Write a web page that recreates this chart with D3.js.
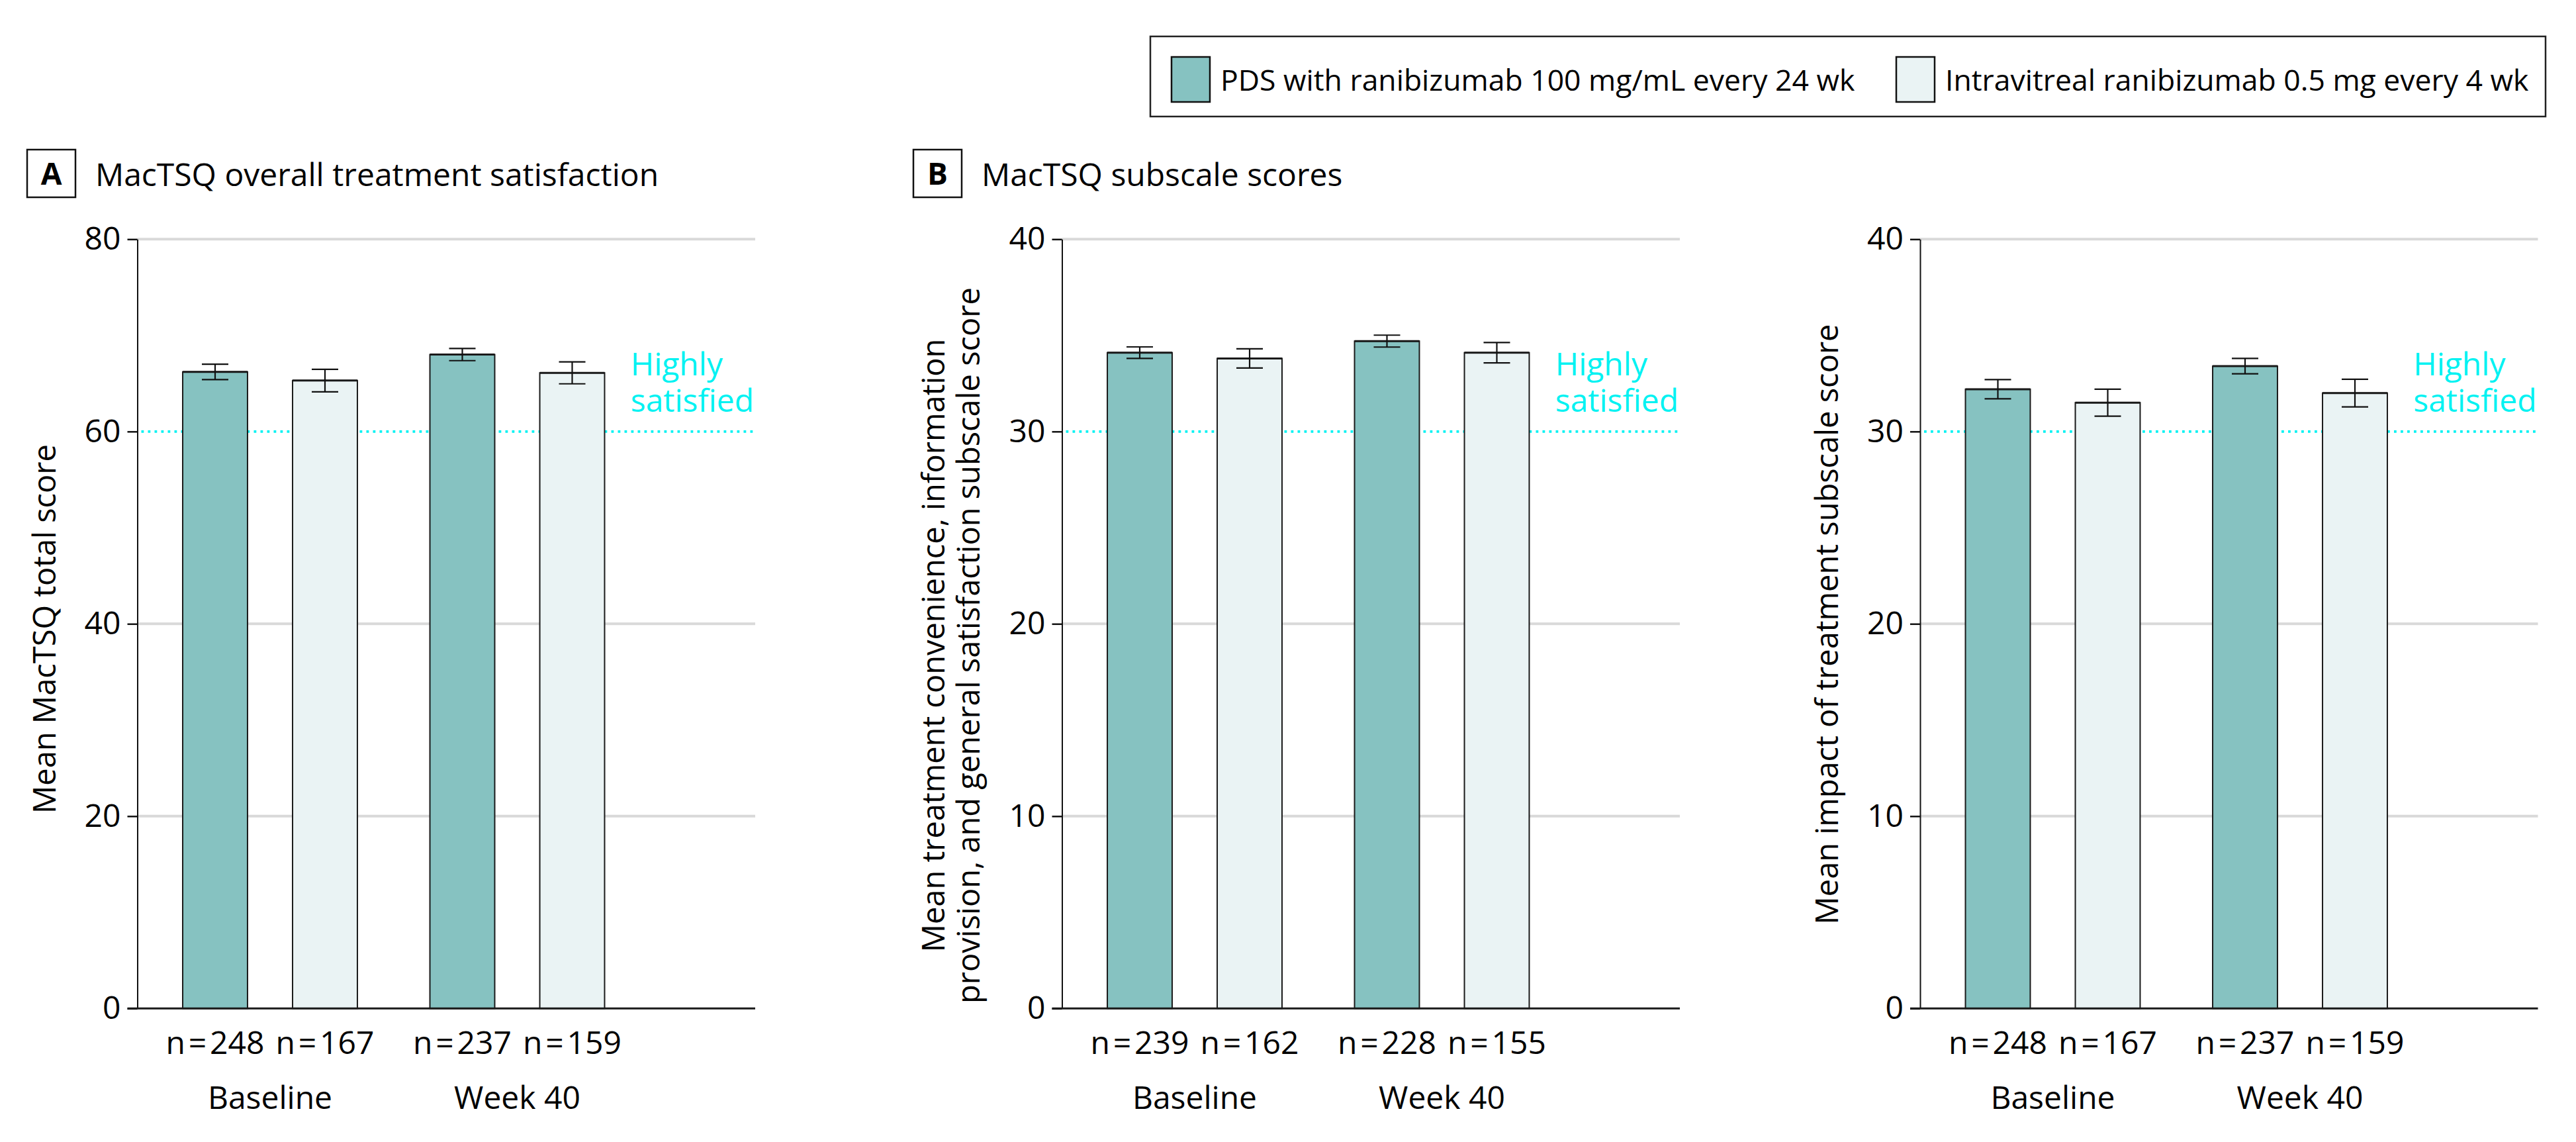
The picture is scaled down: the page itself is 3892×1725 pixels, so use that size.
<!DOCTYPE html>
<html>
<head>
<meta charset="utf-8">
<script src="https://cdn.jsdelivr.net/npm/d3@7"></script>
<style>
  html, body { margin: 0; padding: 0; background: #ffffff; }
  svg { display: block; }
  text { font-family: "Open Sans", "Noto Sans", sans-serif; fill: #000; }
</style>
</head>
<body>
<svg id="chart" width="3892" height="1725"></svg>
<script>
// ---------------- DATA ----------------
const groups = ["Baseline", "Week 40"];
const seriesKeys = ["pds", "monthly"];
const seriesNames = ["PDS with ranibizumab 100 mg/mL every 24 wk", "Intravitreal ranibizumab 0.5 mg every 4 wk"];
const seriesColors = ["#86C2C1", "#EAF3F4"];

// Panel A: MacTSQ total score
const meanPDS_A = [66.2, 68.0];
const meanMonthly_A = [65.3, 66.1];
const errPDS_A = [0.8, 0.63];
const errMonthly_A = [1.17, 1.14];
const nPDS_A = [248, 237];
const nMonthly_A = [167, 159];

// Panel B: convenience / information / general satisfaction subscale
const meanPDS_B = [34.1, 34.7];
const meanMonthly_B = [33.8, 34.1];
const errPDS_B = [0.3, 0.31];
const errMonthly_B = [0.5, 0.53];
const nPDS_B = [239, 228];
const nMonthly_B = [162, 155];

// Panel C: impact of treatment subscale
const meanPDS_C = [32.2, 33.4];
const meanMonthly_C = [31.5, 32.0];
const errPDS_C = [0.5, 0.4];
const errMonthly_C = [0.7, 0.72];
const nPDS_C = [248, 237];
const nMonthly_C = [167, 159];

const ticksA = [0, 20, 40, 60, 80];
const ticksBC = [0, 10, 20, 30, 40];
const thresholdA = 60;
const thresholdBC = 30;

const thresholdLabel = ["Highly", "satisfied"];

// ---------------- LAYOUT ----------------
const svg = d3.select("#chart");
const plotTop = 361.3, plotBottom = 1523.3, plotW = 933.5;
const FS = 48;
const CYAN = "#00F2F2";

function makeRows(mP, mM, eP, eM, nP, nM) {
  const rows = [];
  groups.forEach((g, i) => {
    rows.push({ group: g, key: "pds", mean: mP[i], err: eP[i], n: nP[i], color: seriesColors[0] });
    rows.push({ group: g, key: "monthly", mean: mM[i], err: eM[i], n: nM[i], color: seriesColors[1] });
  });
  return rows;
}

const panels = [
  { x0: 207.5, max: 80, ticks: ticksA, thr: thresholdA, ylx: -124, ylc: 950,
    rows: makeRows(meanPDS_A, meanMonthly_A, errPDS_A, errMonthly_A, nPDS_A, nMonthly_A),
    ylabel: ["Mean MacTSQ total score"] },
  { x0: 1604.5, max: 40, ticks: ticksBC, thr: thresholdBC, ylx: -178, ylc: 975,
    rows: makeRows(meanPDS_B, meanMonthly_B, errPDS_B, errMonthly_B, nPDS_B, nMonthly_B),
    ylabel: ["Mean treatment convenience, information", "provision, and general satisfaction subscale score"] },
  { x0: 2901, max: 40, ticks: ticksBC, thr: thresholdBC, ylx: -124, ylc: 943,
    rows: makeRows(meanPDS_C, meanMonthly_C, errPDS_C, errMonthly_C, nPDS_C, nMonthly_C),
    ylabel: ["Mean impact of treatment subscale score"] }
];

panels.forEach(p => {
  const g = svg.append("g").attr("transform", `translate(${p.x0},0)`);
  const y = d3.scaleLinear().domain([0, p.max]).range([plotBottom, plotTop]);
  const xGroup = d3.scaleBand().domain(groups).range([13.75, 13.75 + 2 * 373.5]).paddingInner(0).paddingOuter(0);
  const xInner = d3.scaleBand().domain(seriesKeys).range([20.75, 352.75]).paddingInner(0.41).paddingOuter(0.205);
  const bw = xInner.bandwidth();
  const cx = d => xGroup(d.group) + xInner(d.key) + bw / 2;

  // gridlines
  g.append("g").selectAll("line.grid")
    .data(p.ticks.filter(t => t !== 0 && t !== p.thr))
    .join("line")
    .attr("x1", 0).attr("x2", plotW)
    .attr("y1", d => y(d)).attr("y2", d => y(d))
    .attr("stroke", "#d9d9d9").attr("stroke-width", 4);

  // threshold dotted line
  g.append("line")
    .attr("x1", 6).attr("x2", plotW)
    .attr("y1", y(p.thr)).attr("y2", y(p.thr))
    .attr("stroke", CYAN).attr("stroke-width", 3.8)
    .attr("stroke-dasharray", "3.8,6.2");

  // threshold label (one text, two lines)
  const lbl = g.append("text").style("font-size", FS + "px").style("fill", CYAN);
  const s1 = lbl.append("tspan").attr("y", y(p.thr) - 85).text(thresholdLabel[0]);
  const s2 = lbl.append("tspan").attr("y", y(p.thr) - 30).text(thresholdLabel[1]);
  const w2 = s2.node().getComputedTextLength();
  s1.attr("x", plotW - 2 - w2);
  s2.attr("x", plotW - 2 - w2);

  // bars
  g.append("g").selectAll("rect")
    .data(p.rows).join("rect")
    .attr("x", d => cx(d) - bw / 2).attr("width", bw)
    .attr("y", d => y(d.mean)).attr("height", d => y(0) - y(d.mean))
    .attr("fill", d => d.color).attr("stroke", "#1a1a1a").attr("stroke-width", 2);
  g.append("g").selectAll("line.top")
    .data(p.rows).join("line")
    .attr("x1", d => cx(d) - bw / 2).attr("x2", d => cx(d) + bw / 2)
    .attr("y1", d => y(d.mean)).attr("y2", d => y(d.mean))
    .attr("stroke", "#1a1a1a").attr("stroke-width", 3);

  // error bars
  const eg = g.append("g").attr("stroke", "#111").attr("stroke-width", 2.2);
  p.rows.forEach(d => {
    eg.append("line").attr("x1", cx(d)).attr("x2", cx(d)).attr("y1", y(d.mean + d.err)).attr("y2", y(d.mean - d.err));
    eg.append("line").attr("x1", cx(d) - 20).attr("x2", cx(d) + 20).attr("y1", y(d.mean + d.err)).attr("y2", y(d.mean + d.err));
    eg.append("line").attr("x1", cx(d) - 20).attr("x2", cx(d) + 20).attr("y1", y(d.mean - d.err)).attr("y2", y(d.mean - d.err));
  });

  // y axis
  const ax = g.append("g").call(d3.axisLeft(y).tickValues(p.ticks).tickSize(15).tickSizeOuter(0).tickPadding(10).tickFormat(d3.format("d")));
  ax.select(".domain").attr("stroke", "#111").attr("stroke-width", 2);
  ax.selectAll(".tick line").attr("stroke", "#111").attr("stroke-width", 2.5);
  ax.selectAll(".tick text").style("font-size", FS + "px").style("font-family", '"Open Sans", sans-serif').attr("fill", "#000");

  // x baseline
  g.append("line").attr("x1", -15).attr("x2", plotW).attr("y1", y(0)).attr("y2", y(0))
    .attr("stroke", "#1a1a1a").attr("stroke-width", 3);

  // n labels
  g.append("g").selectAll("text.n").data(p.rows).join("text")
    .attr("x", d => cx(d)).attr("y", 1592).attr("text-anchor", "middle")
    .style("font-size", FS + "px").text(d => "n\u200A=\u200A" + d.n);

  // group labels
  g.append("g").selectAll("text.grp").data(groups).join("text")
    .attr("x", d => xGroup(d) + xGroup.bandwidth() / 2).attr("y", 1675).attr("text-anchor", "middle")
    .style("font-size", FS + "px").text(d => d);

  // y label
  const yl = g.append("text").attr("text-anchor", "middle")
    .attr("transform", `translate(${p.ylx},${p.ylc}) rotate(-90)`)
    .style("font-size", "47px");
  p.ylabel.forEach((s, i) => yl.append("tspan").attr("x", 0).attr("dy", i === 0 ? 0 : 53).text(s));
});

// panel titles
const titles = [
  { x: 41, letter: "A", text: "MacTSQ overall treatment satisfaction" },
  { x: 1380, letter: "B", text: "MacTSQ subscale scores" }
];
titles.forEach(t => {
  svg.append("rect").attr("x", t.x).attr("y", 226).attr("width", 73).attr("height", 72)
    .attr("fill", "#fff").attr("stroke", "#111").attr("stroke-width", 2.5);
  svg.append("text").attr("x", t.x + 36.5).attr("y", 279).attr("text-anchor", "middle")
    .style("font-size", "46px").style("font-weight", "bold").text(t.letter);
  svg.append("text").attr("x", t.x + 103).attr("y", 281)
    .style("font-size", FS + "px").text(t.text);
});

// legend
svg.append("rect").attr("x", 1738).attr("y", 55).attr("width", 2108).attr("height", 121)
  .attr("fill", "#fff").attr("stroke", "#222").attr("stroke-width", 2.5);
const legX = [1770, 2865];
seriesNames.forEach((s, i) => {
  svg.append("rect").attr("x", legX[i]).attr("y", 86).attr("width", 58).attr("height", 68)
    .attr("fill", seriesColors[i]).attr("stroke", "#111").attr("stroke-width", 2.5);
  svg.append("text").attr("x", legX[i] + 74).attr("y", 137)
    .style("font-size", "44.5px").text(s);
});
</script>
</body>
</html>
